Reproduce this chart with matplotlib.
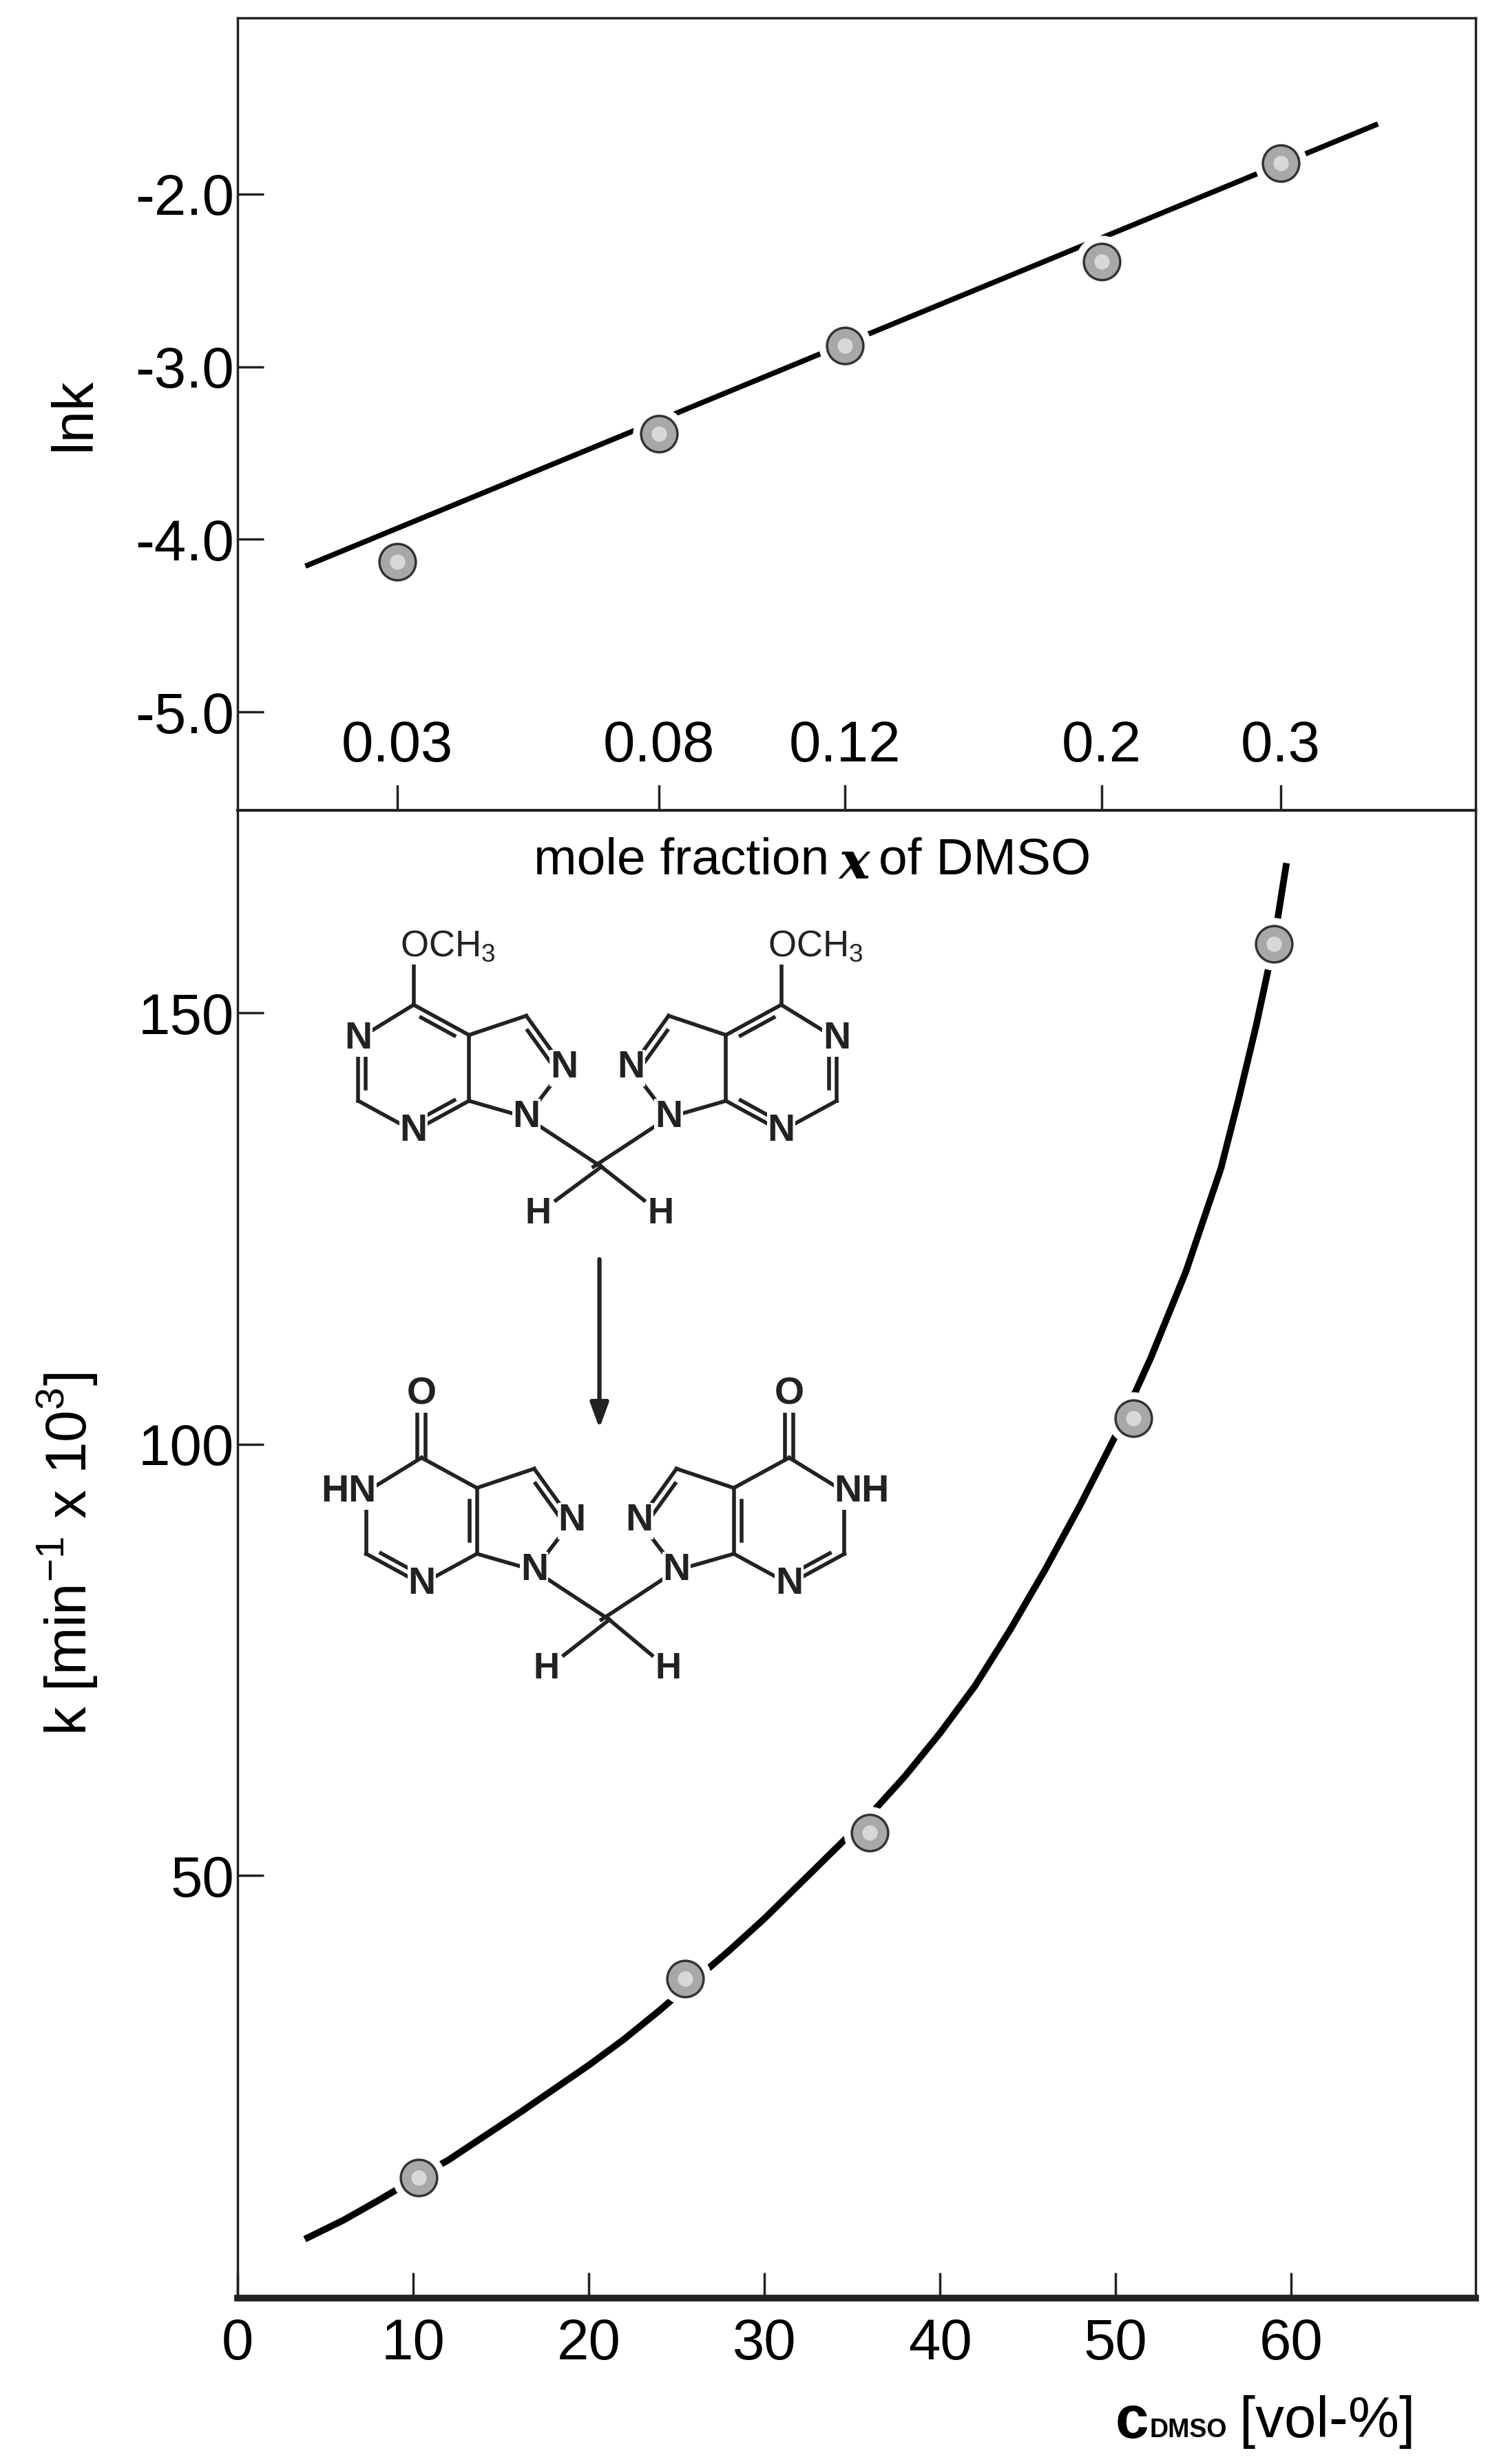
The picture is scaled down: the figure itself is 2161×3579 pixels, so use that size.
import numpy as np
import matplotlib.pyplot as plt

plt.rcParams['font.family'] = ['Liberation Sans', 'DejaVu Sans']
plt.rcParams['axes.unicode_minus'] = False

# top panel: ln k vs mole fraction (placed on the vol-% scale)
x_top = [9.1, 24.0, 34.6, 49.2, 59.4]
x_top_labels = ['0.03', '0.08', '0.12', '0.2', '0.3']
lnk = [-4.13, -3.39, -2.88, -2.39, -1.82]
fit_top_x = [4.0, 64.8]
fit_top_y = [-4.15, -1.60]

# bottom panel: k vs vol-% DMSO
c_dmso = [10.3, 25.5, 36.0, 51.0, 59.0]
k_vals = [15, 38, 55, 103, 158]
curve_x = [4, 6, 8, 10, 12, 14, 16, 18, 20, 22, 24, 26, 28, 30, 32, 34, 36, 38, 40,
           42, 44, 46, 48, 50, 52, 54, 56, 57, 58, 59, 59.7]
curve_y = [8, 10, 12.3, 14.7, 17, 19.7, 22.4, 25.2, 28, 31, 34.3, 37.8, 41.3, 45, 49,
           53, 57, 61.5, 66.5, 72, 78.5, 85.5, 93, 101, 110, 120, 132, 140, 148.5, 158, 167]

W, H = 2161, 3579
fig = plt.figure(figsize=(W / 100, H / 100), dpi=100)
L, R = 345 / W, 2143 / W
ax1 = fig.add_axes([L, 1 - 1177 / H, R - L, (1177 - 26) / H])
ax2 = fig.add_axes([L, 1 - 3338 / H, R - L, (3338 - 1177) / H])
FS = 60
INK = '#222222'


def markers(ax, x, y):
    ax.plot(x, y, 'o', ms=54, color='white', mec='white', zorder=3)
    ax.plot(x, y, 'o', ms=38, color='#a8a8a8', mec='#333333', mew=2.5, zorder=4)
    ax.plot(x, y, 'o', ms=16, color='#d8d8d8', mew=0, zorder=5)


for ax in (ax1, ax2):
    ax.set_xlim(0, 70.5)
    for s in ax.spines.values():
        s.set_linewidth(2.5)
        s.set_color(INK)
    ax.tick_params(direction='in', length=27, width=2.5, labelsize=FS, color=INK)

ax1.set_ylim(-5.57, -0.98)
ax1.plot(fit_top_x, fit_top_y, color='black', lw=5.5, zorder=2)
markers(ax1, x_top, lnk)
ax1.set_yticks([-2, -3, -4, -5])
ax1.set_yticklabels(['-2.0', '-3.0', '-4.0', '-5.0'])
ax1.set_xticks(x_top)
ax1.set_xticklabels(x_top_labels)
ax1.tick_params(axis='x', pad=-95)
ax1.set_ylabel('lnk', fontsize=FS, labelpad=35)
ax1.spines['bottom'].set_visible(False)

ax2.set_ylim(1, 173.5)
ax2.plot(curve_x, curve_y, color='black', lw=7, zorder=2)
markers(ax2, c_dmso, k_vals)
ax2.set_yticks([50, 100, 150])
ax2.set_xticks([0, 10, 20, 30, 40, 50, 60])
ax2.tick_params(axis='x', pad=20)
ax2.spines['bottom'].set_linewidth(7)
ax2.spines['top'].set_linewidth(3)
ax2.set_ylabel(r'k [min$^{\mathregular{-1}}$ x 10$^{\mathregular{3}}$]', fontsize=FS, labelpad=40)
ax2.text(0.478, 0.966, 'mole fraction', transform=ax2.transAxes, fontsize=FS * 0.9,
         ha='right', va='center')
ax2.text(0.498, 0.964, 'x', transform=ax2.transAxes, fontsize=FS * 0.9, ha='center',
         va='center', family='DejaVu Serif', style='italic', fontweight='bold')
ax2.text(0.518, 0.966, 'of DMSO', transform=ax2.transAxes, fontsize=FS * 0.9,
         ha='left', va='center')
fig.text(1620 / W, 1 - 3518 / H, 'c', fontsize=FS * 1.05, fontweight='bold',
         ha='left', va='center')
fig.text(1670 / W, 1 - 3530 / H, 'DMSO', fontsize=FS * 0.45, fontweight='bold',
         ha='left', va='center')
fig.text(1800 / W, 1 - 3518 / H, '[vol-%]', fontsize=FS, ha='left', va='center')

# overlay for the reaction scheme (pixel coordinates)
ov = fig.add_axes([0, 0, 1, 1], zorder=10)
ov.set_xlim(0, W)
ov.set_ylim(H, 0)
ov.axis('off')
ov.patch.set_alpha(0)


def P(p, dx, dy, mirror):
    x, y = p
    x = x + dx
    if mirror:
        x = 1490 + 2 * dx - x
    return np.array([440 + x / 1.742, 1300 + (y + dy) / 1.254])


atoms = {'C4': (280, 200), 'N3': (140, 262), 'C2': (140, 375), 'N1': (280, 430),
         'C7a': (420, 375), 'C3a': (420, 255), 'C3': (565, 220), 'N2': (660, 315),
         'N9': (565, 405), 'CH2': (755, 495), 'O': (280, 95)}
ring6, ring5 = (280, 315), (520, 315)
BLW = 4.0
AFS = 40
BOX = dict(fc='white', ec='none', pad=0.5)


def draw_half(dx, dy, mirror, bottom):
    A = {k: P(v, dx, dy, mirror) for k, v in atoms.items()}
    c6, c5 = P(ring6, dx, dy, mirror), P(ring5, dx, dy, mirror)
    if bottom:
        A['O'] = P((280, 85), dx, dy, mirror)
        dbl = [('C2', 'N1', c6), ('C3a', 'C7a', c6), ('C3', 'N2', c5)]
    else:
        dbl = [('N3', 'C2', c6), ('N1', 'C7a', c6), ('C3a', 'C4', c6), ('C3', 'N2', c5)]
    bonds = [('C4', 'N3'), ('N3', 'C2'), ('C2', 'N1'), ('N1', 'C7a'), ('C7a', 'C3a'),
             ('C3a', 'C4'), ('C3a', 'C3'), ('C3', 'N2'), ('N2', 'N9'), ('N9', 'C7a'),
             ('N9', 'CH2')]
    for a, b in bonds:
        ov.plot(*zip(A[a], A[b]), color=INK, lw=BLW, zorder=1)
    for a, b, c in dbl:
        p, q = A[a], A[b]
        mid = (p + q) / 2
        n = np.array([-(q - p)[1], (q - p)[0]])
        n = n / np.linalg.norm(n)
        if np.dot(c - mid, n) < 0:
            n = -n
        p2 = p + 0.2 * (q - p) + 11 * n
        q2 = q - 0.2 * (q - p) + 11 * n
        ov.plot(*zip(p2, q2), color=INK, lw=BLW, zorder=1)
    if bottom:
        for s in (-6, 6):
            ov.plot([A['C4'][0] + s] * 2, [A['C4'][1], A['O'][1]], color=INK, lw=BLW)
        ov.text(*A['O'], 'O', fontsize=AFS, ha='center', va='center', fontweight='bold',
                color=INK, bbox=BOX, zorder=3)
    else:
        ov.plot(*zip(A['C4'], A['O']), color=INK, lw=BLW)
        ov.text(A['O'][0] - 20, A['O'][1], r'OCH$_{\mathregular{3}}$', fontsize=AFS * 0.95,
                ha='left', va='center', color=INK, bbox=BOX, zorder=3)
    for k in ('N1', 'N2', 'N9', 'N3'):
        t = 'N'
        ha = 'center'
        x, y = A[k]
        if k == 'N3' and bottom:
            t = 'NH' if mirror else 'HN'
            ha = 'left' if mirror else 'right'
            x = x - 15 if mirror else x + 15
        ov.text(x, y, t, fontsize=AFS, ha=ha, va='center', fontweight='bold', color=INK,
                bbox=BOX, zorder=3)


for bottom, dx, dy in ((False, 0, 0), (True, 20, 825)):
    draw_half(dx, dy, False, bottom)
    draw_half(dx, dy, True, bottom)
    c = P(atoms['CH2'], dx, dy, False)
    hy = 580 + dy if not bottom else 1410
    for hx in (595 + dx, 905 + dx):
        h = np.array([440 + hx / 1.742, 1300 + hy / 1.254])
        e = c + 0.72 * (h - c)
        ov.plot(*zip(c, e), color=INK, lw=BLW)
        ov.text(*h, 'H', fontsize=AFS * 0.95, ha='center', va='center', fontweight='bold',
                color=INK)

a0 = np.array([440 + 750 / 1.742, 1300 + 660 / 1.254])
a1 = np.array([440 + 750 / 1.742, 1300 + 975 / 1.254])
ov.annotate('', xy=a1, xytext=a0,
            arrowprops=dict(arrowstyle='-|>,head_length=2.2,head_width=0.8', lw=4.5,
                            color=INK))

fig.savefig('out.png', dpi=100)
